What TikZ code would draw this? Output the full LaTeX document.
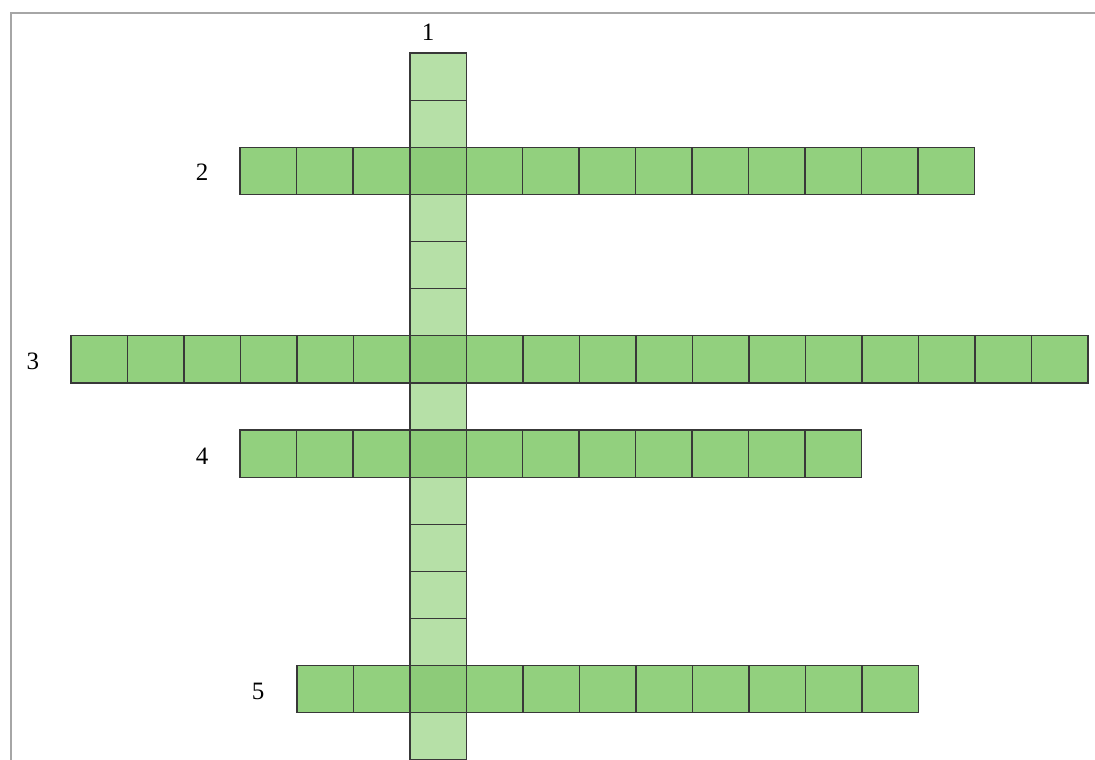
\documentclass[tikz,border=0pt]{standalone}
\usepackage{fontspec}
\setmainfont{Liberation Serif}
\definecolor{rowgreen}{HTML}{92D07E}
\definecolor{colgreen}{HTML}{B6E0A7}
\definecolor{crossgreen}{HTML}{8DCB79}
\tikzset{cell/.style={draw=black!78, line width=1.2pt}}
\begin{document}
\begin{tikzpicture}[x=1pt,y=-1pt,font=\fontsize{25}{30}\selectfont]
  \useasboundingbox (0,0) rectangle (1095,760);
  \draw[black!35, line width=1.2pt] (11,760) -- (11,13) -- (1095,13);
  % word 1 (vertical)
  \foreach \k in {0,...,14}
    \filldraw[cell, fill=colgreen] (410,{53+47.13*\k}) rectangle ++(56.5,47.13);
  % words 2-5: left x / row / number of cells
  \foreach \x/\k/\n in {240/2/13, 71/6/18, 240/8/11, 297/13/11} {
    \foreach \j in {1,...,\n}
      \filldraw[cell, fill=rowgreen] ({\x+56.5*(\j-1)},{53+47.13*\k}) rectangle ++(56.5,47.13);
    \filldraw[cell, fill=crossgreen] (410,{53+47.13*\k}) rectangle ++(56.5,47.13);
  }
  \node (n1) at (428,32) {1};
  \node (n2) at (202,172) {2};
  \node (n3) at (33,361) {3};
  \node (n4) at (202,456) {4};
  \node (n5) at (258,691) {5};
\end{tikzpicture}
\end{document}
